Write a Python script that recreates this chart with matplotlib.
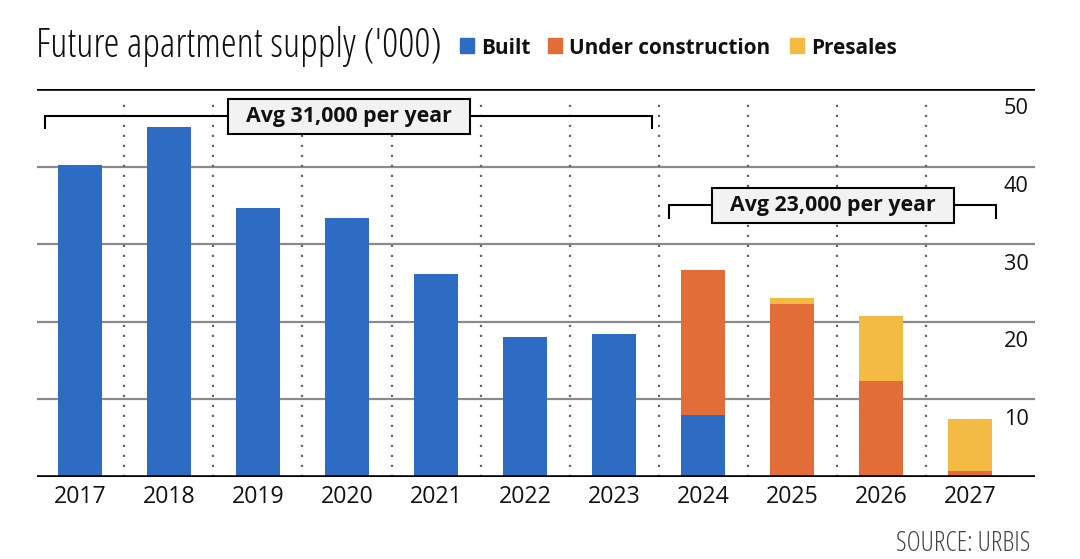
import matplotlib
matplotlib.use("Agg")
import matplotlib.pyplot as plt
from matplotlib.patches import Rectangle

years = ["2017", "2018", "2019", "2020", "2021", "2022", "2023", "2024", "2025", "2026", "2027"]
built = [40.2, 45.1, 34.7, 33.4, 26.2, 18.0, 18.4, 8.0, 0, 0, 0]
under_construction = [0, 0, 0, 0, 0, 0, 0, 18.7, 22.3, 12.4, 0.8]
presales = [0, 0, 0, 0, 0, 0, 0, 0, 0.8, 8.3, 6.7]
y_ticks = [10, 20, 30, 40, 50]
series_names = ["Built", "Under construction", "Presales"]
colors = ["#2e6cc4", "#e36d38", "#f3bb44"]
avg_labels = ["Avg 31,000 per year", "Avg 23,000 per year"]

W, H = 1080, 559
fig = plt.figure(figsize=(W / 100, H / 100), dpi=100)
renderer = fig.canvas.get_renderer()

def fx(px):
    return px / W

def fy(py):
    return 1 - py / H

FAM = ["Open Sans", "Noto Sans", "DejaVu Sans"]
REG = dict(family=FAM, fontstretch="semi-condensed")
COND = dict(family=FAM, fontstretch="condensed")
BOLD = dict(family=FAM, fontweight="bold", fontstretch="semi-condensed")

def fit(texts, target_px):
    """Scale font size of texts so that the first one spans target_px."""
    w = texts[0].get_window_extent(renderer).width
    s = target_px / w
    for t in texts:
        t.set_fontsize(t.get_fontsize() * s)

ax = fig.add_axes([fx(37), fy(477), fx(1035) - fx(37), fy(89) - fy(477)])
ax.set_xlim(-0.483, 10.73)
ax.set_ylim(0, 50)
ax.axis("off")

x = list(range(len(years)))
bw = 0.5
for v in y_ticks[:-1]:
    ax.axhline(v, color="#8a8a8a", lw=1.6, zorder=1)
ax.axhline(0, color="black", lw=2.6, zorder=4)
ax.axhline(50, color="black", lw=2.6, zorder=4)
for i in range(len(years) - 1):
    ax.plot([i + 0.5, i + 0.5], [0, 49], color="#666666", lw=1.6,
            linestyle=(0, (1, 3.5)), zorder=1)

bottom2 = [b + u for b, u in zip(built, under_construction)]
ax.bar(x, built, width=bw, color=colors[0], zorder=3)
ax.bar(x, under_construction, width=bw, bottom=built, color=colors[1], zorder=3)
ax.bar(x, presales, width=bw, bottom=bottom2, color=colors[2], zorder=3)

# y labels on right, below gridlines
ylabs = [ax.text(10.66, v - 1.2, str(v), ha="right", va="top", fontsize=16,
                 color="#111111", **REG) for v in y_ticks]
fit(ylabs, 25)

# x labels
xlabs = [ax.text(i, -1.0, yr, ha="center", va="top", fontsize=18,
                 color="#111111", **REG) for i, yr in enumerate(years)]
fit(xlabs, 53)

# brackets
def bracket(x0, x1, y, ytick, label, cx):
    ax.plot([x0, x0, x1, x1], [ytick, y, y, ytick], color="black", lw=1.5,
            zorder=5, solid_joinstyle="miter")
    return ax.text(cx, y, label, ha="center", va="center", fontsize=14,
                   color="#111111", zorder=7, **BOLD)

b1 = bracket(-0.39, 6.43, 46.5, 45.0, avg_labels[0], 3.02)
b2 = bracket(6.62, 10.29, 35.0, 33.4, avg_labels[1], 8.46)
fit([b1, b2], 208)

inv = ax.transData.inverted()
for t in (b1, b2):
    bb = t.get_window_extent(renderer)
    cxp = (bb.x0 + bb.x1) / 2
    cyp = (bb.y0 + bb.y1) / 2
    (dx0, dy0) = inv.transform((cxp - 121, cyp - 17.5))
    (dx1, dy1) = inv.transform((cxp + 121, cyp + 17.5))
    ax.add_patch(Rectangle((dx0, dy0), dx1 - dx0, dy1 - dy0, facecolor="#f2f2f2",
                           edgecolor="black", linewidth=1.5, zorder=6))

# title
title = fig.text(fx(36), fy(57), "Future apartment supply ('000)", ha="left",
                 va="baseline", fontsize=22, color="#111111", **COND)
fit([title], 404)

# legend
leg_x = [460, 548, 790]
legt = []
for lx, name, c in zip(leg_x, series_names, colors):
    fig.patches.append(Rectangle((fx(lx), fy(53)), fx(14), 15 / H, color=c,
                                 transform=fig.transFigure, figure=fig))
    legt.append(fig.text(fx(lx + 21), fy(54), name, ha="left", va="baseline",
                         fontsize=16, color="#111111", **BOLD))
fit([legt[1], legt[0], legt[2]], 202)

# source
src = fig.text(fx(1030), fy(551), "SOURCE: URBIS", ha="right", va="baseline",
               fontsize=13, color="#444444", **COND)
fit([src], 133)

fig.savefig("out.png", dpi=100)
